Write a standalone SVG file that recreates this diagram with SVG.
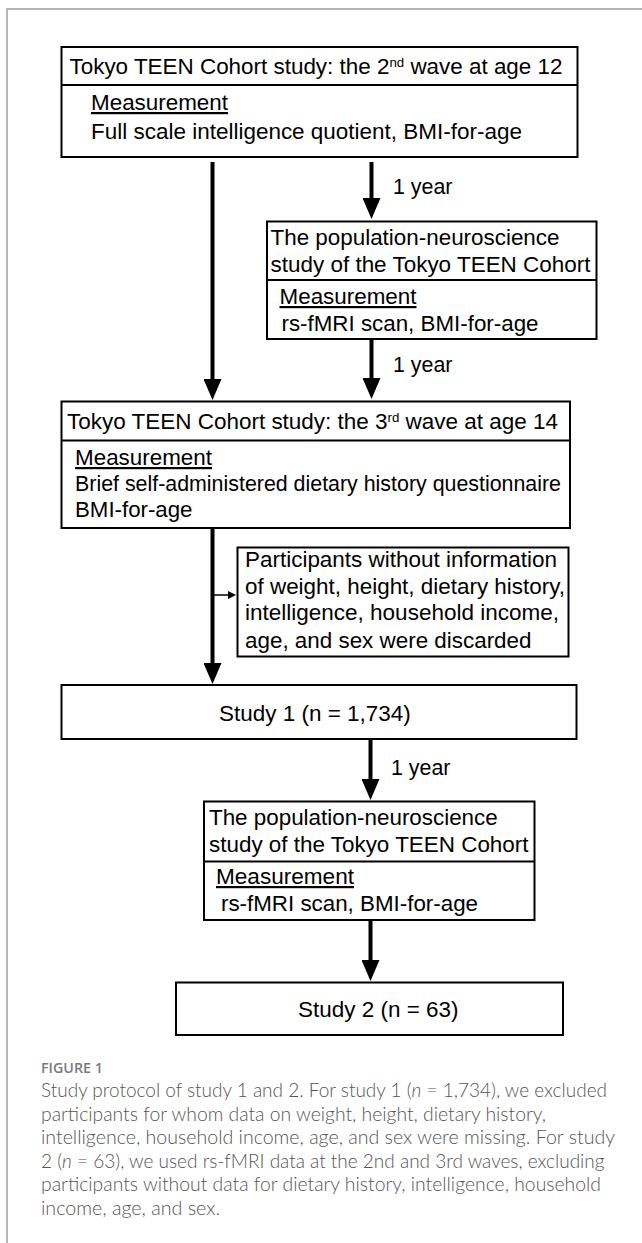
<svg xmlns="http://www.w3.org/2000/svg" width="642" height="1243" viewBox="0 0 642 1243">
<defs>
<style>
.box{fill:#fff;stroke:#000;stroke-width:2}
.div{stroke:#000;stroke-width:2}
.t{font-family:"Liberation Sans",Arial,sans-serif;font-size:22px;fill:#000}
.u{text-decoration:underline}
.sup{font-size:13px}
.shaft{stroke:#000;stroke-width:4;fill:none}
.thin{stroke:#000;stroke-width:1.5;fill:none}
.cap{font-family:Lato,"Open Sans",sans-serif;font-size:19px;font-weight:300;fill:#555}
.fig{font-family:"Open Sans",Lato,sans-serif;font-size:14px;font-weight:600;fill:#7a7a7a}
</style>
<marker id="ah" markerUnits="userSpaceOnUse" viewBox="0 0 21 18" markerWidth="21" markerHeight="18" refX="1" refY="9" orient="auto">
<path d="M0,0 L21,9 L0,18 z" fill="#000"/>
</marker>
<marker id="ahs" markerUnits="userSpaceOnUse" viewBox="0 0 8 8" markerWidth="8" markerHeight="8" refX="1" refY="4" orient="auto">
<path d="M0,0 L8,4 L0,8 z" fill="#000"/>
</marker>
</defs>
<rect width="642" height="1243" fill="#fff"/>
<path d="M7,1243 V9 H642" fill="none" stroke="#b5b5b5" stroke-width="2"/>

<g id="connectors">
<line class="shaft" x1="212.5" y1="162" x2="212.5" y2="380" marker-end="url(#ah)"/>
<line class="shaft" x1="371.5" y1="162" x2="371.5" y2="199" marker-end="url(#ah)"/>
<text class="t" x="393" y="193.5" textLength="59.5" lengthAdjust="spacingAndGlyphs">1 year</text>
<line class="shaft" x1="371.5" y1="339" x2="371.5" y2="379" marker-end="url(#ah)"/>
<text class="t" x="393" y="372" textLength="59.5" lengthAdjust="spacingAndGlyphs">1 year</text>
<line class="shaft" x1="212.5" y1="528" x2="212.5" y2="664" marker-end="url(#ah)"/>
<line class="thin" x1="214" y1="595" x2="229" y2="595" marker-end="url(#ahs)"/>
<line class="shaft" x1="370.5" y1="739" x2="370.5" y2="780" marker-end="url(#ah)"/>
<text class="t" x="391" y="775" textLength="59.5" lengthAdjust="spacingAndGlyphs">1 year</text>
<line class="shaft" x1="370.5" y1="920" x2="370.5" y2="961" marker-end="url(#ah)"/>
</g>

<g id="wave2">
<rect class="box" x="61.5" y="47" width="516" height="110"/>
<line class="div" x1="61.5" y1="85" x2="577.5" y2="85"/>
<text class="t" x="69.5" y="74" textLength="493" lengthAdjust="spacingAndGlyphs">Tokyo TEEN Cohort study: the 2<tspan class="sup" dy="-7">nd</tspan><tspan dy="7"> wave at age 12</tspan></text>
<text class="t u" x="91" y="110" textLength="137" lengthAdjust="spacingAndGlyphs">Measurement</text>
<text class="t" x="91" y="139" textLength="431" lengthAdjust="spacingAndGlyphs">Full scale intelligence quotient, BMI-for-age</text>
</g>

<g id="neuro1">
<rect class="box" x="267" y="221.5" width="329.5" height="117.5"/>
<line class="div" x1="267" y1="280" x2="596.5" y2="280"/>
<text class="t" x="270.5" y="245" textLength="289" lengthAdjust="spacingAndGlyphs">The population-neuroscience</text>
<text class="t" x="270.5" y="271.5" textLength="320" lengthAdjust="spacingAndGlyphs">study of the Tokyo TEEN Cohort</text>
<text class="t u" x="279.5" y="304" textLength="137" lengthAdjust="spacingAndGlyphs">Measurement</text>
<text class="t" x="281.5" y="330.5" textLength="257" lengthAdjust="spacingAndGlyphs">rs-fMRI scan, BMI-for-age</text>
</g>

<g id="wave3">
<rect class="box" x="61.5" y="401.5" width="508.5" height="126.5"/>
<line class="div" x1="61.5" y1="440.5" x2="570" y2="440.5"/>
<text class="t" x="67" y="429" textLength="491" lengthAdjust="spacingAndGlyphs">Tokyo TEEN Cohort study: the 3<tspan class="sup" dy="-7">rd</tspan><tspan dy="7"> wave at age 14</tspan></text>
<text class="t u" x="75" y="465" textLength="137" lengthAdjust="spacingAndGlyphs">Measurement</text>
<text class="t" x="75" y="491" textLength="486" lengthAdjust="spacingAndGlyphs">Brief self-administered dietary history questionnaire</text>
<text class="t" x="75" y="517" textLength="117.5" lengthAdjust="spacingAndGlyphs">BMI-for-age</text>
</g>

<g id="excluded">
<rect class="box" x="237.5" y="547.5" width="331" height="109"/>
<text class="t" x="245" y="567" textLength="312" lengthAdjust="spacingAndGlyphs">Participants without information</text>
<text class="t" x="245" y="593.5" textLength="320" lengthAdjust="spacingAndGlyphs">of weight, height, dietary history,</text>
<text class="t" x="245" y="620" textLength="314" lengthAdjust="spacingAndGlyphs">intelligence, household income,</text>
<text class="t" x="245" y="647.5" textLength="286.5" lengthAdjust="spacingAndGlyphs">age, and sex were discarded</text>
</g>

<g id="study1">
<rect class="box" x="61.5" y="685" width="515" height="54"/>
<text class="t" x="219" y="720.5" textLength="191.7" lengthAdjust="spacingAndGlyphs">Study 1 (n = 1,734)</text>
</g>

<g id="neuro2">
<rect class="box" x="204" y="801.5" width="330.5" height="118.5"/>
<line class="div" x1="204" y1="861.5" x2="534.5" y2="861.5"/>
<text class="t" x="209" y="825" textLength="288.7" lengthAdjust="spacingAndGlyphs">The population-neuroscience</text>
<text class="t" x="209" y="851.5" textLength="319.5" lengthAdjust="spacingAndGlyphs">study of the Tokyo TEEN Cohort</text>
<text class="t u" x="216" y="884" textLength="138" lengthAdjust="spacingAndGlyphs">Measurement</text>
<text class="t" x="221" y="911" textLength="257" lengthAdjust="spacingAndGlyphs">rs-fMRI scan, BMI-for-age</text>
</g>

<g id="study2">
<rect class="box" x="176" y="982.5" width="387" height="52.5"/>
<text class="t" x="298" y="1016.5" textLength="160.6" lengthAdjust="spacingAndGlyphs">Study 2 (n = 63)</text>
</g>

<g id="caption">
<text class="fig" x="41" y="1073" textLength="62" lengthAdjust="spacingAndGlyphs">FIGURE 1</text>
<text class="cap" x="41" y="1097">Study protocol of study 1 and 2. For study 1 (<tspan font-style="italic">n</tspan> = 1,734), we excluded</text>
<text class="cap" x="41" y="1120.5" textLength="505" lengthAdjust="spacingAndGlyphs">participants for whom data on weight, height, dietary history,</text>
<text class="cap" x="41" y="1144" textLength="574" lengthAdjust="spacingAndGlyphs">intelligence, household income, age, and sex were missing. For study</text>
<text class="cap" x="41" y="1167.5">2 (<tspan font-style="italic">n</tspan> = 63), we used rs-fMRI data at the 2nd and 3rd waves, excluding</text>
<text class="cap" x="41" y="1191" textLength="560" lengthAdjust="spacingAndGlyphs">participants without data for dietary history, intelligence, household</text>
<text class="cap" x="41" y="1214.5" textLength="179" lengthAdjust="spacingAndGlyphs">income, age, and sex.</text>
</g>
</svg>
